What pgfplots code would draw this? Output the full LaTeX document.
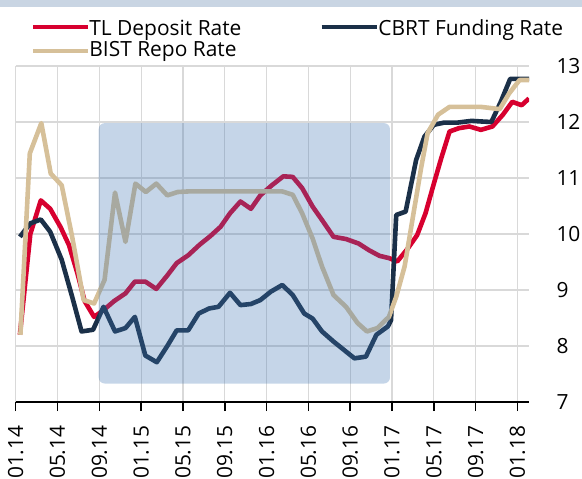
\documentclass[border=0pt]{standalone}
\usepackage{fontspec}
\setmainfont{Open Sans}
\usepackage{pgfplots}
\pgfplotsset{compat=1.18}
\definecolor{tlred}{RGB}{215,0,47}
\definecolor{cbrtnavy}{RGB}{27,48,72}
\definecolor{bisttan}{RGB}{214,192,153}
\definecolor{gridgray}{RGB}{217,217,217}
\definecolor{boxblue}{RGB}{62,117,178}
\definecolor{bandblue}{RGB}{201,213,227}
\newcommand\lbl{\fontsize{21}{24}\selectfont}

\begin{document}
\begin{tikzpicture}
\path[use as bounding box] (-15.7bp,-77bp) rectangle (566.3bp,402bp);
\fill[bandblue] (-15.7bp,395bp) rectangle (566.3bp,402bp);
\begin{axis}[
  at={(0,0)}, anchor=south west,
  scale only axis, width=513.3bp, height=336bp,
  xmin=0, xmax=49.1, ymin=7, ymax=13,
  axis x line=bottom, axis y line=right,
  x axis line style={-, black, line width=1.5bp},
  y axis line style={draw=none},
  xtick={0,4,...,48},
  xticklabels={01.14,05.14,09.14,01.15,05.15,09.15,01.16,05.16,09.16,01.17,05.17,09.17,01.18},
  ytick={7,...,13},
  tick align=outside,
  major tick length=9bp,
  xtick style={black, line width=1.5bp},
  ytick style={draw=none},
  xmajorgrids, ymajorgrids,
  grid style={gridgray, line width=1.2bp},
  xticklabel style={rotate=90, anchor=east, font=\lbl, xshift=-11bp},
  yticklabel style={anchor=west, font=\lbl, xshift=15bp},
  /pgf/number format/assume math mode=true,
  every axis plot/.append style={line width=4.6bp, line join=round},
]
% TL deposit rate
\addplot[tlred] coordinates {
(0.4,8.2) (1.4,10.0) (2.4,10.6) (3.3,10.45) (4.3,10.12) (5.1,9.8) (5.9,9.3) (6.6,8.8) (7.5,8.52)
(8.4,8.64) (9.4,8.8) (10.5,8.94) (11.4,9.15) (12.4,9.15) (13.45,9.02) (14.5,9.26) (15.4,9.48)
(16.5,9.62) (17.6,9.81) (18.6,9.96) (19.6,10.13) (20.5,10.37) (21.5,10.58) (22.5,10.45) (23.4,10.69)
(24.5,10.87) (25.6,11.03) (26.5,11.02) (27.4,10.82) (28.4,10.49) (29.3,10.25) (30.4,9.95) (31.6,9.91)
(32.8,9.83) (33.8,9.71) (34.8,9.61) (35.7,9.57) (36.5,9.51) (37.5,9.74) (38.4,9.98) (39.2,10.37)
(40.0,10.9) (40.7,11.35) (41.5,11.83) (42.4,11.89) (43.4,11.92) (44.5,11.86) (45.6,11.92) (46.6,12.13)
(47.5,12.36) (48.4,12.30) (49.1,12.42)
};
% CBRT funding rate
\addplot[cbrtnavy] coordinates {
(0.4,9.95) (1.4,10.19) (2.4,10.26) (3.3,10.04) (4.4,9.54) (5.4,8.88) (6.3,8.26) (7.4,8.29) (8.4,8.70)
(9.5,8.26) (10.5,8.32) (11.4,8.52) (12.4,7.83) (13.5,7.71) (14.5,8.0) (15.4,8.28) (16.5,8.28) (17.5,8.58)
(18.5,8.67) (19.4,8.70) (20.5,8.95) (21.5,8.73) (22.5,8.75) (23.4,8.82) (24.4,8.97) (25.5,9.09)
(26.5,8.91) (27.6,8.58) (28.4,8.49) (29.3,8.26) (30.4,8.08) (31.4,7.93) (32.4,7.78) (33.5,7.81)
(34.5,8.2) (35.6,8.35) (35.9,8.46) (36.4,10.34) (37.3,10.40) (38.3,11.32) (39.1,11.74) (40.0,11.95)
(41.0,11.99) (42.3,11.99) (43.6,12.02) (44.5,12.01) (45.5,12.0) (46.4,12.36) (47.3,12.77) (48.3,12.77)
(49.1,12.77)
};
% BIST repo rate
\addplot[bisttan] coordinates {
(0.45,8.2) (1.35,11.44) (2.45,11.98) (3.35,11.08) (4.4,10.87) (5.4,9.95) (6.5,8.82) (7.5,8.76)
(8.5,9.18) (9.5,10.74) (10.5,9.86) (11.45,10.9) (12.45,10.75) (13.45,10.9) (14.5,10.69) (15.5,10.75)
(16.5,10.76) (18.5,10.76) (20.5,10.76) (22.5,10.76) (24.5,10.76) (25.5,10.76) (26.5,10.70) (27.4,10.37)
(28.4,9.92) (29.3,9.42) (30.4,8.91) (31.6,8.70) (32.7,8.41) (33.6,8.26) (34.6,8.32) (35.7,8.52)
(36.4,8.88) (37.2,9.42) (38.0,10.31) (38.8,11.2) (39.4,11.8) (40.4,12.13) (41.5,12.27) (44.5,12.27)
(46.3,12.23) (47.2,12.51) (48.2,12.75) (49.1,12.75)
};
% highlighted period
\fill[boxblue, fill opacity=0.3, rounded corners=6bp] (axis cs:7.94,7.33) rectangle (axis cs:35.8,11.98);
\end{axis}
% legend
\draw[tlred, line width=4.6bp] (17.3bp,375bp) -- (72.3bp,375bp);
\node[anchor=base west, inner sep=0pt, font=\lbl] at (73.5bp,366.7bp) {TL Deposit Rate};
\draw[cbrtnavy, line width=4.6bp] (305.8bp,375bp) -- (361.3bp,375bp);
\node[anchor=base west, inner sep=0pt, font=\lbl] at (362.5bp,366.7bp) {CBRT Funding Rate};
\draw[bisttan, line width=4.6bp] (17.3bp,351bp) -- (72.3bp,351bp);
\node[anchor=base west, inner sep=0pt, font=\lbl] at (73.5bp,345.6bp) {BIST Repo Rate};
\end{tikzpicture}
\end{document}
